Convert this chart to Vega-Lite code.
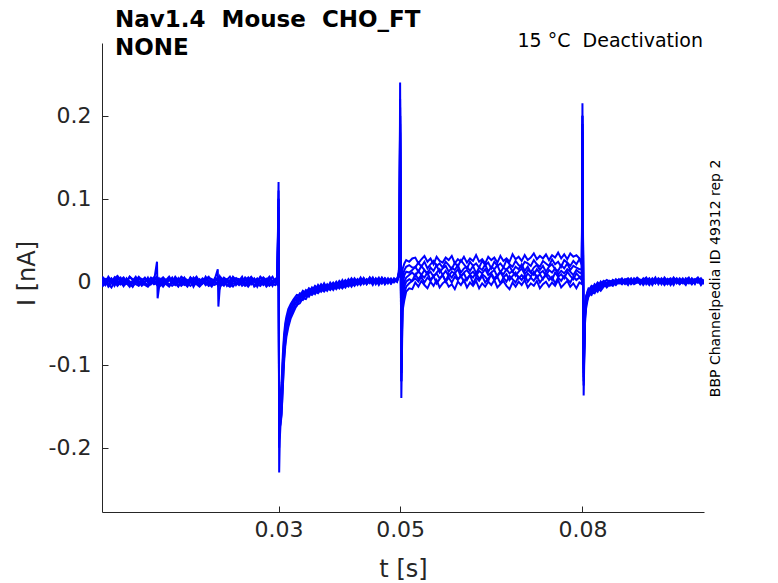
{
  "$schema": "https://vega.github.io/schema/vega-lite/v6.json",
  "width": 602,
  "height": 469,
  "autosize": {"type": "none"},
  "padding": {"left": 102, "top": 43, "right": 74, "bottom": 71},
  "background": "white",
  "title": {
    "text": ["Nav1.4\u00a0 Mouse\u00a0 CHO_FT", "NONE"],
    "anchor": "start",
    "frame": "group",
    "dx": 13,
    "dy": 51,
    "font": "DejaVu Sans",
    "fontSize": 23,
    "fontWeight": "bold",
    "color": "#000000",
    "lineHeight": 28,
    "baseline": "bottom",
    "offset": 0
  },
  "layer": [
    {
      "data": {
        "values": [
          {"t": 0.0010, "a": 0.004, "b": -0.003, "c": 0.001, "d": -0.005, "e": 0.002, "f": 0.006, "g": -0.006},
          {"t": 0.0015, "a": -0.002, "b": 0.001, "c": -0.004, "d": 0.003, "e": -0.001, "f": 0.002, "g": -0.002},
          {"t": 0.0020, "a": 0.006, "b": -0.006, "c": 0.003, "d": 0.000, "e": -0.004, "f": 0.005, "g": -0.003},
          {"t": 0.0025, "a": 0.001, "b": -0.002, "c": -0.001, "d": 0.004, "e": 0.003, "f": 0.001, "g": -0.007},
          {"t": 0.0030, "a": -0.003, "b": 0.002, "c": 0.005, "d": -0.002, "e": -0.005, "f": 0.004, "g": 0.000},
          {"t": 0.0035, "a": 0.005, "b": -0.005, "c": -0.003, "d": 0.002, "e": 0.001, "f": 0.007, "g": -0.004},
          {"t": 0.0040, "a": 0.000, "b": -0.001, "c": 0.002, "d": 0.005, "e": -0.003, "f": 0.002, "g": -0.001},
          {"t": 0.0045, "a": 0.003, "b": -0.004, "c": -0.005, "d": -0.001, "e": 0.004, "f": 0.005, "g": -0.005},
          {"t": 0.0050, "a": -0.001, "b": 0.000, "c": 0.004, "d": 0.003, "e": -0.002, "f": 0.000, "g": -0.002},
          {"t": 0.0055, "a": 0.006, "b": -0.003, "c": 0.000, "d": -0.004, "e": 0.000, "f": 0.006, "g": -0.006},
          {"t": 0.0060, "a": 0.002, "b": -0.006, "c": -0.002, "d": 0.001, "e": -0.006, "f": 0.003, "g": 0.001},
          {"t": 0.0065, "a": -0.002, "b": -0.001, "c": 0.003, "d": 0.006, "e": 0.002, "f": 0.001, "g": -0.003},
          {"t": 0.0070, "a": 0.004, "b": 0.001, "c": -0.004, "d": 0.000, "e": -0.003, "f": 0.006, "g": -0.005},
          {"t": 0.0075, "a": 0.001, "b": -0.005, "c": 0.001, "d": -0.003, "e": 0.003, "f": 0.002, "g": -0.001},
          {"t": 0.0080, "a": 0.005, "b": -0.002, "c": -0.001, "d": 0.004, "e": -0.001, "f": 0.004, "g": -0.004},
          {"t": 0.0085, "a": -0.001, "b": -0.004, "c": 0.005, "d": 0.002, "e": -0.005, "f": 0.000, "g": -0.006},
          {"t": 0.0090, "a": 0.003, "b": 0.000, "c": -0.003, "d": -0.002, "e": 0.002, "f": 0.005, "g": -0.002},
          {"t": 0.0095, "a": 0.000, "b": -0.003, "c": 0.002, "d": 0.005, "e": -0.002, "f": 0.003, "g": 0.000},
          {"t": 0.0100, "a": 0.024, "b": -0.001, "c": -0.002, "d": 0.001, "e": 0.001, "f": 0.006, "g": -0.004},
          {"t": 0.0101, "a": -0.020, "b": -0.004, "c": 0.001, "d": 0.003, "e": -0.003, "f": 0.002, "g": -0.003},
          {"t": 0.0103, "a": -0.009, "b": -0.002, "c": -0.001, "d": -0.001, "e": 0.000, "f": 0.004, "g": -0.005},
          {"t": 0.0105, "a": 0.002, "b": -0.005, "c": 0.003, "d": 0.002, "e": -0.004, "f": 0.001, "g": -0.002},
          {"t": 0.0110, "a": 0.005, "b": 0.000, "c": -0.004, "d": 0.004, "e": 0.003, "f": 0.005, "g": -0.006},
          {"t": 0.0115, "a": -0.002, "b": -0.003, "c": 0.001, "d": -0.002, "e": -0.001, "f": 0.002, "g": -0.001},
          {"t": 0.0120, "a": 0.003, "b": -0.006, "c": 0.004, "d": 0.001, "e": -0.005, "f": 0.006, "g": -0.003},
          {"t": 0.0125, "a": 0.000, "b": -0.001, "c": -0.002, "d": 0.005, "e": 0.002, "f": 0.000, "g": -0.005},
          {"t": 0.0130, "a": 0.006, "b": -0.004, "c": 0.002, "d": -0.003, "e": -0.002, "f": 0.004, "g": -0.002},
          {"t": 0.0135, "a": 0.001, "b": 0.001, "c": -0.005, "d": 0.003, "e": 0.004, "f": 0.001, "g": -0.006},
          {"t": 0.0140, "a": -0.003, "b": -0.005, "c": 0.003, "d": 0.000, "e": -0.004, "f": 0.006, "g": 0.000},
          {"t": 0.0145, "a": 0.004, "b": -0.002, "c": 0.000, "d": 0.005, "e": 0.001, "f": 0.003, "g": -0.004},
          {"t": 0.0150, "a": 0.002, "b": -0.006, "c": -0.003, "d": -0.001, "e": -0.002, "f": -0.001, "g": -0.002},
          {"t": 0.0155, "a": -0.001, "b": 0.000, "c": 0.005, "d": 0.002, "e": 0.003, "f": 0.005, "g": -0.005},
          {"t": 0.0160, "a": 0.005, "b": -0.003, "c": -0.001, "d": -0.004, "e": -0.006, "f": 0.002, "g": -0.001},
          {"t": 0.0165, "a": 0.000, "b": -0.001, "c": 0.002, "d": 0.004, "e": 0.000, "f": 0.006, "g": -0.003},
          {"t": 0.0170, "a": 0.003, "b": -0.005, "c": -0.004, "d": 0.001, "e": -0.003, "f": 0.000, "g": -0.006},
          {"t": 0.0175, "a": -0.002, "b": 0.002, "c": 0.001, "d": -0.002, "e": 0.002, "f": 0.004, "g": -0.002},
          {"t": 0.0180, "a": 0.006, "b": -0.004, "c": 0.004, "d": 0.003, "e": -0.004, "f": 0.001, "g": 0.000},
          {"t": 0.0185, "a": 0.001, "b": -0.002, "c": -0.002, "d": 0.006, "e": 0.001, "f": 0.005, "g": -0.005},
          {"t": 0.0190, "a": -0.003, "b": -0.006, "c": 0.003, "d": -0.001, "e": -0.002, "f": 0.003, "g": -0.003},
          {"t": 0.0195, "a": 0.004, "b": 0.000, "c": 0.000, "d": 0.002, "e": 0.003, "f": -0.001, "g": -0.004},
          {"t": 0.0200, "a": 0.001, "b": -0.003, "c": -0.004, "d": 0.005, "e": 0.015, "f": 0.004, "g": -0.001},
          {"t": 0.0201, "a": 0.003, "b": -0.001, "c": 0.002, "d": 0.000, "e": -0.030, "f": 0.002, "g": -0.006},
          {"t": 0.0203, "a": -0.001, "b": -0.004, "c": -0.001, "d": 0.003, "e": -0.010, "f": 0.006, "g": -0.002},
          {"t": 0.0205, "a": 0.005, "b": -0.002, "c": 0.004, "d": -0.003, "e": -0.003, "f": 0.001, "g": -0.005},
          {"t": 0.0210, "a": 0.000, "b": -0.005, "c": -0.003, "d": 0.004, "e": 0.002, "f": 0.005, "g": -0.001},
          {"t": 0.0215, "a": 0.003, "b": 0.001, "c": 0.002, "d": -0.001, "e": -0.005, "f": 0.002, "g": -0.004},
          {"t": 0.0220, "a": -0.002, "b": -0.003, "c": -0.005, "d": 0.002, "e": 0.000, "f": 0.006, "g": -0.006},
          {"t": 0.0225, "a": 0.006, "b": -0.006, "c": 0.001, "d": 0.005, "e": 0.003, "f": 0.000, "g": -0.002},
          {"t": 0.0230, "a": 0.002, "b": -0.001, "c": 0.004, "d": -0.002, "e": -0.004, "f": 0.004, "g": -0.003},
          {"t": 0.0235, "a": -0.001, "b": -0.004, "c": -0.002, "d": 0.001, "e": 0.001, "f": 0.003, "g": 0.000},
          {"t": 0.0240, "a": 0.004, "b": 0.000, "c": 0.003, "d": 0.006, "e": -0.002, "f": -0.001, "g": -0.005},
          {"t": 0.0245, "a": 0.001, "b": -0.005, "c": -0.004, "d": -0.003, "e": 0.004, "f": 0.005, "g": -0.002},
          {"t": 0.0250, "a": 0.005, "b": -0.002, "c": 0.000, "d": 0.003, "e": -0.003, "f": 0.002, "g": -0.006},
          {"t": 0.0255, "a": -0.003, "b": 0.002, "c": 0.005, "d": 0.000, "e": -0.001, "f": 0.006, "g": -0.001},
          {"t": 0.0260, "a": 0.003, "b": -0.006, "c": -0.001, "d": 0.004, "e": 0.002, "f": 0.001, "g": -0.004},
          {"t": 0.0265, "a": 0.000, "b": -0.003, "c": 0.002, "d": -0.002, "e": -0.006, "f": 0.004, "g": -0.003},
          {"t": 0.0270, "a": 0.006, "b": -0.001, "c": -0.003, "d": 0.005, "e": 0.001, "f": 0.000, "g": -0.005},
          {"t": 0.0275, "a": 0.002, "b": -0.004, "c": 0.004, "d": 0.001, "e": -0.002, "f": 0.005, "g": 0.000},
          {"t": 0.0280, "a": -0.002, "b": 0.001, "c": -0.002, "d": -0.004, "e": 0.003, "f": 0.002, "g": -0.006},
          {"t": 0.0285, "a": 0.004, "b": -0.005, "c": 0.001, "d": 0.002, "e": -0.004, "f": 0.006, "g": -0.002},
          {"t": 0.0290, "a": 0.001, "b": -0.002, "c": -0.005, "d": 0.006, "e": 0.000, "f": -0.001, "g": -0.003},
          {"t": 0.0295, "a": 0.003, "b": 0.000, "c": 0.003, "d": -0.001, "e": 0.002, "f": 0.003, "g": -0.004},
          {"t": 0.0298, "a": -0.001, "b": -0.003, "c": 0.000, "d": 0.002, "e": -0.002, "f": 0.001, "g": -0.001},
          {"t": 0.0300, "a": 0.120, "b": 0.100, "c": 0.090, "d": 0.110, "e": 0.080, "f": 0.100, "g": 0.070},
          {"t": 0.0301, "a": -0.230, "b": -0.200, "c": -0.180, "d": -0.190, "e": -0.170, "f": -0.160, "g": -0.180},
          {"t": 0.0302, "a": -0.190, "b": -0.175, "c": -0.170, "d": -0.165, "e": -0.160, "f": -0.150, "g": -0.155},
          {"t": 0.0303, "a": -0.175, "b": -0.172, "c": -0.160, "d": -0.158, "e": -0.150, "f": -0.145, "g": -0.140},
          {"t": 0.0305, "a": -0.160, "b": -0.158, "c": -0.150, "d": -0.140, "e": -0.138, "f": -0.128, "g": -0.122},
          {"t": 0.0307, "a": -0.128, "b": -0.125, "c": -0.112, "d": -0.110, "e": -0.100, "f": -0.096, "g": -0.088},
          {"t": 0.0309, "a": -0.098, "b": -0.092, "c": -0.086, "d": -0.080, "e": -0.075, "f": -0.070, "g": -0.064},
          {"t": 0.0311, "a": -0.078, "b": -0.074, "c": -0.068, "d": -0.064, "e": -0.059, "f": -0.056, "g": -0.050},
          {"t": 0.0313, "a": -0.066, "b": -0.060, "c": -0.057, "d": -0.052, "e": -0.050, "f": -0.045, "g": -0.042},
          {"t": 0.0316, "a": -0.055, "b": -0.051, "c": -0.047, "d": -0.044, "e": -0.040, "f": -0.038, "g": -0.033},
          {"t": 0.0320, "a": -0.044, "b": -0.041, "c": -0.038, "d": -0.034, "e": -0.033, "f": -0.029, "g": -0.027},
          {"t": 0.0325, "a": -0.036, "b": -0.032, "c": -0.031, "d": -0.027, "e": -0.026, "f": -0.022, "g": -0.021},
          {"t": 0.0330, "a": -0.028, "b": -0.029, "c": -0.023, "d": -0.025, "e": -0.019, "f": -0.021, "g": -0.016},
          {"t": 0.0335, "a": -0.026, "b": -0.021, "c": -0.023, "d": -0.017, "e": -0.020, "f": -0.014, "g": -0.017},
          {"t": 0.0340, "a": -0.020, "b": -0.022, "c": -0.015, "d": -0.019, "e": -0.013, "f": -0.016, "g": -0.011},
          {"t": 0.0345, "a": -0.021, "b": -0.015, "c": -0.018, "d": -0.012, "e": -0.016, "f": -0.010, "g": -0.014},
          {"t": 0.0350, "a": -0.014, "b": -0.018, "c": -0.011, "d": -0.015, "e": -0.009, "f": -0.013, "g": -0.008},
          {"t": 0.0355, "a": -0.016, "b": -0.011, "c": -0.014, "d": -0.008, "e": -0.013, "f": -0.007, "g": -0.011},
          {"t": 0.0360, "a": -0.012, "b": -0.015, "c": -0.009, "d": -0.012, "e": -0.006, "f": -0.011, "g": -0.005},
          {"t": 0.0365, "a": -0.014, "b": -0.008, "c": -0.012, "d": -0.006, "e": -0.010, "f": -0.004, "g": -0.009},
          {"t": 0.0370, "a": -0.009, "b": -0.012, "c": -0.006, "d": -0.011, "e": -0.005, "f": -0.009, "g": -0.003},
          {"t": 0.0375, "a": -0.012, "b": -0.007, "c": -0.010, "d": -0.004, "e": -0.009, "f": -0.002, "g": -0.007},
          {"t": 0.0380, "a": -0.007, "b": -0.011, "c": -0.005, "d": -0.009, "e": -0.003, "f": -0.008, "g": -0.004},
          {"t": 0.0385, "a": -0.010, "b": -0.005, "c": -0.009, "d": -0.003, "e": -0.008, "f": -0.001, "g": -0.006},
          {"t": 0.0390, "a": -0.005, "b": -0.010, "c": -0.003, "d": -0.008, "e": -0.002, "f": -0.006, "g": -0.001},
          {"t": 0.0395, "a": -0.009, "b": -0.004, "c": -0.007, "d": -0.001, "e": -0.006, "f": 0.000, "g": -0.005},
          {"t": 0.0400, "a": -0.004, "b": -0.008, "c": -0.002, "d": -0.007, "e": 0.000, "f": -0.005, "g": 0.001},
          {"t": 0.0405, "a": -0.008, "b": -0.003, "c": -0.006, "d": 0.000, "e": -0.005, "f": 0.002, "g": -0.003},
          {"t": 0.0410, "a": -0.003, "b": -0.007, "c": 0.001, "d": -0.005, "e": 0.001, "f": -0.004, "g": 0.002},
          {"t": 0.0415, "a": -0.006, "b": -0.001, "c": -0.004, "d": 0.002, "e": -0.003, "f": 0.003, "g": -0.002},
          {"t": 0.0420, "a": -0.001, "b": -0.006, "c": 0.002, "d": -0.004, "e": 0.003, "f": -0.002, "g": 0.004},
          {"t": 0.0425, "a": -0.005, "b": 0.000, "c": -0.003, "d": 0.001, "e": -0.004, "f": 0.004, "g": -0.001},
          {"t": 0.0430, "a": 0.001, "b": -0.004, "c": 0.003, "d": -0.002, "e": 0.002, "f": -0.001, "g": 0.003},
          {"t": 0.0435, "a": -0.004, "b": 0.002, "c": -0.002, "d": 0.004, "e": -0.003, "f": 0.005, "g": -0.002},
          {"t": 0.0440, "a": 0.002, "b": -0.003, "c": 0.004, "d": -0.001, "e": 0.004, "f": -0.002, "g": 0.004},
          {"t": 0.0445, "a": -0.003, "b": 0.001, "c": -0.001, "d": 0.003, "e": -0.002, "f": 0.003, "g": -0.003},
          {"t": 0.0450, "a": 0.003, "b": -0.002, "c": 0.005, "d": 0.000, "e": 0.005, "f": -0.001, "g": 0.002},
          {"t": 0.0455, "a": -0.002, "b": 0.004, "c": 0.000, "d": 0.005, "e": -0.001, "f": 0.004, "g": -0.004},
          {"t": 0.0460, "a": 0.004, "b": -0.001, "c": 0.003, "d": -0.003, "e": 0.003, "f": 0.000, "g": 0.003},
          {"t": 0.0465, "a": -0.001, "b": 0.003, "c": -0.002, "d": 0.002, "e": -0.004, "f": 0.005, "g": -0.001},
          {"t": 0.0470, "a": 0.005, "b": 0.000, "c": 0.004, "d": -0.002, "e": 0.002, "f": -0.002, "g": 0.004},
          {"t": 0.0475, "a": 0.000, "b": 0.004, "c": -0.003, "d": 0.004, "e": -0.001, "f": 0.003, "g": -0.003},
          {"t": 0.0480, "a": 0.003, "b": -0.002, "c": 0.002, "d": -0.001, "e": 0.004, "f": 0.001, "g": 0.002},
          {"t": 0.0485, "a": -0.002, "b": 0.003, "c": -0.001, "d": 0.003, "e": -0.002, "f": 0.004, "g": -0.002},
          {"t": 0.0490, "a": 0.004, "b": 0.000, "c": 0.003, "d": 0.000, "e": 0.003, "f": -0.001, "g": 0.003},
          {"t": 0.0495, "a": 0.001, "b": 0.002, "c": 0.000, "d": 0.004, "e": 0.000, "f": 0.003, "g": 0.001},
          {"t": 0.0498, "a": 0.010, "b": 0.008, "c": 0.012, "d": 0.006, "e": 0.009, "f": 0.011, "g": 0.007},
          {"t": 0.0499, "a": 0.054, "b": 0.045, "c": 0.050, "d": 0.040, "e": 0.048, "f": 0.042, "g": 0.046},
          {"t": 0.0500, "a": 0.240, "b": 0.200, "c": 0.210, "d": 0.190, "e": 0.220, "f": 0.180, "g": 0.200},
          {"t": 0.0502, "a": -0.140, "b": -0.120, "c": -0.110, "d": -0.100, "e": -0.120, "f": -0.090, "g": -0.110},
          {"t": 0.0504, "a": -0.035, "b": -0.028, "c": -0.020, "d": -0.012, "e": -0.005, "f": 0.005, "g": 0.015},
          {"t": 0.0507, "a": -0.022, "b": -0.014, "c": -0.006, "d": 0.000, "e": 0.008, "f": 0.014, "g": 0.022},
          {"t": 0.0510, "a": -0.012, "b": -0.006, "c": 0.000, "d": 0.005, "e": 0.012, "f": 0.018, "g": 0.026},
          {"t": 0.0515, "a": -0.008, "b": -0.002, "c": 0.003, "d": 0.008, "e": 0.011, "f": 0.020, "g": 0.024},
          {"t": 0.0520, "a": -0.009, "b": 0.001, "c": 0.001, "d": 0.011, "e": 0.014, "f": 0.017, "g": 0.028},
          {"t": 0.0525, "a": -0.001, "b": 0.004, "c": 0.009, "d": 0.007, "e": 0.018, "f": 0.017, "g": 0.029},
          {"t": 0.0530, "a": -0.006, "b": 0.000, "c": 0.003, "d": 0.013, "e": 0.012, "f": 0.023, "g": 0.022},
          {"t": 0.0535, "a": 0.001, "b": 0.006, "c": 0.008, "d": 0.008, "e": 0.019, "f": 0.018, "g": 0.027},
          {"t": 0.0540, "a": -0.004, "b": -0.001, "c": 0.005, "d": 0.014, "e": 0.014, "f": 0.024, "g": 0.031},
          {"t": 0.0545, "a": -0.008, "b": 0.005, "c": 0.011, "d": 0.009, "e": 0.010, "f": 0.016, "g": 0.024},
          {"t": 0.0550, "a": 0.000, "b": 0.001, "c": 0.002, "d": 0.012, "e": 0.017, "f": 0.021, "g": 0.028},
          {"t": 0.0555, "a": -0.005, "b": 0.007, "c": 0.007, "d": 0.006, "e": 0.013, "f": 0.025, "g": 0.021},
          {"t": 0.0560, "a": 0.002, "b": -0.002, "c": 0.010, "d": 0.011, "e": 0.020, "f": 0.019, "g": 0.030},
          {"t": 0.0565, "a": -0.007, "b": 0.003, "c": 0.004, "d": 0.015, "e": 0.011, "f": 0.022, "g": 0.025},
          {"t": 0.0570, "a": -0.002, "b": 0.008, "c": 0.008, "d": 0.008, "e": 0.016, "f": 0.017, "g": 0.023},
          {"t": 0.0575, "a": 0.001, "b": 0.000, "c": 0.001, "d": 0.013, "e": 0.019, "f": 0.024, "g": 0.029},
          {"t": 0.0580, "a": -0.006, "b": 0.005, "c": 0.009, "d": 0.007, "e": 0.012, "f": 0.020, "g": 0.026},
          {"t": 0.0585, "a": -0.003, "b": -0.001, "c": 0.005, "d": 0.012, "e": 0.017, "f": 0.015, "g": 0.031},
          {"t": 0.0590, "a": -0.009, "b": 0.006, "c": 0.011, "d": 0.010, "e": 0.014, "f": 0.023, "g": 0.022},
          {"t": 0.0595, "a": 0.000, "b": 0.002, "c": 0.003, "d": 0.015, "e": 0.020, "f": 0.018, "g": 0.027},
          {"t": 0.0600, "a": -0.004, "b": 0.007, "c": 0.007, "d": 0.006, "e": 0.011, "f": 0.026, "g": 0.024},
          {"t": 0.0605, "a": 0.002, "b": 0.000, "c": 0.010, "d": 0.011, "e": 0.016, "f": 0.021, "g": 0.030},
          {"t": 0.0610, "a": -0.007, "b": 0.004, "c": 0.002, "d": 0.014, "e": 0.018, "f": 0.016, "g": 0.023},
          {"t": 0.0615, "a": -0.001, "b": 0.008, "c": 0.008, "d": 0.009, "e": 0.013, "f": 0.024, "g": 0.028},
          {"t": 0.0620, "a": -0.005, "b": -0.002, "c": 0.005, "d": 0.012, "e": 0.019, "f": 0.019, "g": 0.025},
          {"t": 0.0625, "a": 0.001, "b": 0.005, "c": 0.011, "d": 0.007, "e": 0.010, "f": 0.022, "g": 0.032},
          {"t": 0.0630, "a": -0.008, "b": 0.001, "c": 0.003, "d": 0.013, "e": 0.017, "f": 0.017, "g": 0.024},
          {"t": 0.0635, "a": -0.002, "b": 0.007, "c": 0.009, "d": 0.010, "e": 0.014, "f": 0.025, "g": 0.027},
          {"t": 0.0640, "a": -0.006, "b": -0.001, "c": 0.006, "d": 0.015, "e": 0.021, "f": 0.020, "g": 0.022},
          {"t": 0.0645, "a": 0.000, "b": 0.004, "c": 0.001, "d": 0.008, "e": 0.012, "f": 0.023, "g": 0.030},
          {"t": 0.0650, "a": -0.004, "b": 0.008, "c": 0.010, "d": 0.011, "e": 0.018, "f": 0.016, "g": 0.026},
          {"t": 0.0655, "a": 0.002, "b": 0.002, "c": 0.004, "d": 0.014, "e": 0.015, "f": 0.024, "g": 0.029},
          {"t": 0.0660, "a": -0.007, "b": 0.006, "c": 0.008, "d": 0.006, "e": 0.020, "f": 0.019, "g": 0.023},
          {"t": 0.0665, "a": -0.003, "b": -0.002, "c": 0.012, "d": 0.012, "e": 0.011, "f": 0.022, "g": 0.031},
          {"t": 0.0670, "a": 0.001, "b": 0.005, "c": 0.005, "d": 0.009, "e": 0.017, "f": 0.017, "g": 0.025},
          {"t": 0.0675, "a": -0.005, "b": 0.000, "c": 0.009, "d": 0.015, "e": 0.014, "f": 0.026, "g": 0.028},
          {"t": 0.0680, "a": -0.009, "b": 0.007, "c": 0.002, "d": 0.010, "e": 0.019, "f": 0.021, "g": 0.024},
          {"t": 0.0685, "a": -0.001, "b": 0.003, "c": 0.007, "d": 0.013, "e": 0.012, "f": 0.018, "g": 0.033},
          {"t": 0.0690, "a": -0.006, "b": -0.001, "c": 0.011, "d": 0.007, "e": 0.018, "f": 0.025, "g": 0.027},
          {"t": 0.0695, "a": 0.000, "b": 0.006, "c": 0.004, "d": 0.012, "e": 0.015, "f": 0.020, "g": 0.030},
          {"t": 0.0700, "a": -0.004, "b": 0.002, "c": 0.008, "d": 0.016, "e": 0.021, "f": 0.017, "g": 0.025},
          {"t": 0.0705, "a": 0.002, "b": 0.008, "c": 0.003, "d": 0.009, "e": 0.013, "f": 0.024, "g": 0.032},
          {"t": 0.0710, "a": -0.007, "b": 0.000, "c": 0.010, "d": 0.014, "e": 0.018, "f": 0.022, "g": 0.026},
          {"t": 0.0715, "a": -0.002, "b": 0.005, "c": 0.006, "d": 0.011, "e": 0.011, "f": 0.019, "g": 0.029},
          {"t": 0.0720, "a": -0.005, "b": 0.001, "c": 0.012, "d": 0.008, "e": 0.017, "f": 0.026, "g": 0.034},
          {"t": 0.0725, "a": 0.001, "b": 0.007, "c": 0.005, "d": 0.015, "e": 0.020, "f": 0.021, "g": 0.027},
          {"t": 0.0730, "a": -0.008, "b": -0.001, "c": 0.009, "d": 0.010, "e": 0.014, "f": 0.018, "g": 0.031},
          {"t": 0.0735, "a": -0.003, "b": 0.004, "c": 0.003, "d": 0.013, "e": 0.019, "f": 0.025, "g": 0.028},
          {"t": 0.0740, "a": 0.000, "b": 0.008, "c": 0.010, "d": 0.007, "e": 0.012, "f": 0.022, "g": 0.033},
          {"t": 0.0745, "a": -0.006, "b": 0.002, "c": 0.007, "d": 0.014, "e": 0.018, "f": 0.019, "g": 0.026},
          {"t": 0.0750, "a": -0.001, "b": 0.006, "c": 0.002, "d": 0.011, "e": 0.021, "f": 0.027, "g": 0.032},
          {"t": 0.0755, "a": -0.005, "b": -0.002, "c": 0.011, "d": 0.016, "e": 0.015, "f": 0.021, "g": 0.029},
          {"t": 0.0760, "a": 0.002, "b": 0.005, "c": 0.006, "d": 0.009, "e": 0.013, "f": 0.024, "g": 0.035},
          {"t": 0.0765, "a": -0.007, "b": 0.001, "c": 0.009, "d": 0.013, "e": 0.020, "f": 0.018, "g": 0.028},
          {"t": 0.0770, "a": -0.003, "b": 0.007, "c": 0.004, "d": 0.010, "e": 0.016, "f": 0.026, "g": 0.033},
          {"t": 0.0775, "a": 0.001, "b": 0.003, "c": 0.012, "d": 0.015, "e": 0.022, "f": 0.023, "g": 0.027},
          {"t": 0.0780, "a": -0.006, "b": -0.001, "c": 0.007, "d": 0.012, "e": 0.014, "f": 0.019, "g": 0.034},
          {"t": 0.0785, "a": -0.002, "b": 0.006, "c": 0.003, "d": 0.008, "e": 0.019, "f": 0.025, "g": 0.030},
          {"t": 0.0790, "a": -0.008, "b": 0.002, "c": 0.010, "d": 0.014, "e": 0.017, "f": 0.021, "g": 0.032},
          {"t": 0.0795, "a": -0.001, "b": 0.005, "c": 0.006, "d": 0.011, "e": 0.015, "f": 0.027, "g": 0.028},
          {"t": 0.0799, "a": -0.003, "b": 0.002, "c": 0.006, "d": 0.010, "e": 0.015, "f": 0.020, "g": 0.025},
          {"t": 0.0800, "a": 0.215, "b": 0.190, "c": 0.200, "d": 0.180, "e": 0.200, "f": 0.170, "g": 0.190},
          {"t": 0.0802, "a": -0.137, "b": -0.120, "c": -0.110, "d": -0.125, "e": -0.100, "f": -0.115, "g": -0.105},
          {"t": 0.0804, "a": -0.052, "b": -0.046, "c": -0.040, "d": -0.043, "e": -0.035, "f": -0.038, "g": -0.031},
          {"t": 0.0806, "a": -0.032, "b": -0.028, "c": -0.026, "d": -0.024, "e": -0.021, "f": -0.019, "g": -0.017},
          {"t": 0.0808, "a": -0.024, "b": -0.019, "c": -0.021, "d": -0.015, "e": -0.017, "f": -0.012, "g": -0.014},
          {"t": 0.0810, "a": -0.018, "b": -0.013, "c": -0.016, "d": -0.010, "e": -0.013, "f": -0.008, "g": -0.011},
          {"t": 0.0815, "a": -0.013, "b": -0.016, "c": -0.009, "d": -0.012, "e": -0.006, "f": -0.010, "g": -0.005},
          {"t": 0.0820, "a": -0.014, "b": -0.008, "c": -0.011, "d": -0.005, "e": -0.009, "f": -0.003, "g": -0.007},
          {"t": 0.0825, "a": -0.008, "b": -0.012, "c": -0.005, "d": -0.009, "e": -0.002, "f": -0.007, "g": -0.001},
          {"t": 0.0830, "a": -0.011, "b": -0.005, "c": -0.008, "d": -0.002, "e": -0.006, "f": 0.000, "g": -0.004},
          {"t": 0.0835, "a": -0.006, "b": -0.002, "c": -0.004, "d": 0.001, "e": -0.001, "f": -0.005, "g": 0.000},
          {"t": 0.0840, "a": -0.003, "b": -0.007, "c": -0.001, "d": -0.002, "e": 0.002, "f": -0.004, "g": -0.003},
          {"t": 0.0845, "a": -0.005, "b": -0.003, "c": 0.001, "d": -0.004, "e": 0.000, "f": 0.001, "g": -0.001},
          {"t": 0.0850, "a": -0.001, "b": -0.005, "c": -0.002, "d": 0.002, "e": -0.003, "f": -0.002, "g": 0.002},
          {"t": 0.0855, "a": -0.004, "b": 0.000, "c": -0.003, "d": -0.001, "e": 0.001, "f": 0.003, "g": -0.002},
          {"t": 0.0860, "a": 0.000, "b": -0.002, "c": 0.001, "d": 0.003, "e": -0.002, "f": 0.000, "g": 0.001},
          {"t": 0.0865, "a": -0.003, "b": 0.001, "c": -0.001, "d": 0.000, "e": 0.003, "f": -0.003, "g": 0.004},
          {"t": 0.0870, "a": 0.002, "b": -0.001, "c": 0.003, "d": -0.003, "e": 0.000, "f": 0.002, "g": -0.001},
          {"t": 0.0875, "a": -0.002, "b": 0.003, "c": 0.000, "d": 0.001, "e": -0.004, "f": 0.004, "g": 0.000},
          {"t": 0.0880, "a": 0.001, "b": -0.003, "c": -0.002, "d": 0.004, "e": 0.002, "f": -0.001, "g": 0.003},
          {"t": 0.0885, "a": 0.003, "b": 0.000, "c": 0.004, "d": -0.002, "e": -0.001, "f": 0.001, "g": -0.003},
          {"t": 0.0890, "a": -0.001, "b": 0.004, "c": 0.001, "d": 0.002, "e": 0.003, "f": 0.005, "g": -0.001},
          {"t": 0.0895, "a": 0.000, "b": -0.002, "c": -0.003, "d": -0.001, "e": -0.003, "f": 0.002, "g": 0.002},
          {"t": 0.0900, "a": 0.004, "b": 0.001, "c": 0.002, "d": 0.003, "e": 0.001, "f": -0.002, "g": -0.004},
          {"t": 0.0905, "a": -0.003, "b": -0.001, "c": 0.005, "d": 0.000, "e": 0.004, "f": 0.003, "g": 0.001},
          {"t": 0.0910, "a": 0.001, "b": 0.003, "c": -0.001, "d": -0.004, "e": -0.002, "f": 0.000, "g": 0.004},
          {"t": 0.0915, "a": 0.002, "b": -0.004, "c": 0.000, "d": 0.002, "e": 0.000, "f": 0.004, "g": -0.002},
          {"t": 0.0920, "a": -0.002, "b": 0.002, "c": 0.003, "d": -0.002, "e": 0.005, "f": -0.001, "g": 0.000},
          {"t": 0.0925, "a": 0.003, "b": -0.001, "c": -0.002, "d": 0.004, "e": -0.003, "f": 0.002, "g": 0.003},
          {"t": 0.0930, "a": 0.000, "b": 0.004, "c": 0.001, "d": 0.001, "e": 0.002, "f": -0.003, "g": -0.001},
          {"t": 0.0935, "a": -0.004, "b": 0.000, "c": 0.004, "d": -0.003, "e": -0.001, "f": 0.005, "g": 0.002},
          {"t": 0.0940, "a": 0.002, "b": -0.003, "c": -0.001, "d": 0.003, "e": 0.003, "f": 0.001, "g": -0.003},
          {"t": 0.0945, "a": 0.004, "b": 0.002, "c": 0.002, "d": -0.001, "e": -0.004, "f": -0.002, "g": 0.001},
          {"t": 0.0950, "a": -0.001, "b": -0.001, "c": -0.004, "d": 0.005, "e": 0.001, "f": 0.003, "g": 0.004},
          {"t": 0.0955, "a": 0.001, "b": 0.003, "c": 0.003, "d": 0.000, "e": 0.004, "f": 0.000, "g": -0.002},
          {"t": 0.0960, "a": -0.003, "b": 0.000, "c": 0.000, "d": -0.003, "e": -0.002, "f": 0.004, "g": 0.002},
          {"t": 0.0965, "a": 0.003, "b": -0.002, "c": 0.004, "d": 0.002, "e": 0.000, "f": -0.001, "g": 0.000},
          {"t": 0.0970, "a": 0.000, "b": 0.004, "c": -0.002, "d": -0.001, "e": 0.003, "f": 0.002, "g": -0.004},
          {"t": 0.0975, "a": -0.002, "b": 0.001, "c": 0.001, "d": 0.004, "e": -0.001, "f": 0.005, "g": 0.003},
          {"t": 0.0980, "a": 0.004, "b": -0.003, "c": -0.003, "d": 0.000, "e": 0.002, "f": -0.002, "g": 0.001},
          {"t": 0.0985, "a": 0.001, "b": 0.002, "c": 0.002, "d": -0.002, "e": -0.003, "f": 0.003, "g": -0.001},
          {"t": 0.0990, "a": -0.001, "b": -0.001, "c": 0.005, "d": 0.003, "e": 0.004, "f": 0.000, "g": 0.002},
          {"t": 0.0995, "a": 0.002, "b": 0.003, "c": 0.000, "d": -0.004, "e": -0.001, "f": 0.004, "g": -0.003},
          {"t": 0.1000, "a": -0.003, "b": 0.000, "c": 0.002, "d": 0.001, "e": 0.002, "f": -0.001, "g": 0.001}
        ]
      },
      "transform": [{"fold": ["a", "b", "c", "d", "e", "f", "g"], "as": ["sweep", "i"]}],
      "mark": {"type": "line", "stroke": "#0000ff", "strokeWidth": 2, "clip": true},
      "encoding": {
        "x": {
          "field": "t",
          "type": "quantitative",
          "scale": {"domain": [0.00095, 0.1], "nice": false, "zero": false},
          "axis": {
            "title": "t [s]",
            "values": [0.03, 0.05, 0.08],
            "labelExpr": "toString(datum.value)",
            "labelBaseline": "alphabetic",
            "labelPadding": 30,
            "titleBaseline": "alphabetic",
            "titleY": 64
          }
        },
        "y": {
          "field": "i",
          "type": "quantitative",
          "scale": {"domain": [-0.2775, 0.2876], "nice": false, "zero": false},
          "axis": {
            "title": "I [nA]",
            "values": [-0.2, -0.1, 0, 0.1, 0.2],
            "labelExpr": "toString(datum.value)",
            "labelPadding": 17,
            "titleBaseline": "middle",
            "titleX": -75,
            "titleY": 230
          }
        },
        "detail": {"field": "sweep"}
      }
    },
    {
      "data": {"values": [{}]},
      "mark": {
        "type": "text",
        "text": "15 °C\u00a0 Deactivation",
        "align": "right",
        "baseline": "alphabetic",
        "font": "DejaVu Sans",
        "fontSize": 19,
        "color": "#000000",
        "dx": -1,
        "dy": 4
      },
      "encoding": {
        "x": {"datum": 0.1},
        "y": {"datum": 0.2876}
      }
    },
    {
      "data": {"values": [{}]},
      "mark": {
        "type": "text",
        "text": "BBP Channelpedia ID 49312 rep 2",
        "align": "center",
        "baseline": "middle",
        "angle": 270,
        "font": "DejaVu Sans",
        "fontSize": 14,
        "color": "#000000"
      },
      "encoding": {
        "x": {"datum": 0.10204},
        "y": {"datum": 0.0039}
      }
    }
  ],
  "config": {
    "view": {"stroke": null},
    "axis": {
      "grid": false,
      "domainColor": "#262626",
      "tickColor": "#262626",
      "labelColor": "#262626",
      "titleColor": "#262626",
      "labelFont": "DejaVu Sans",
      "titleFont": "DejaVu Sans",
      "labelFontSize": 22,
      "titleFontSize": 24,
      "titleFontWeight": "normal",
      "tickSize": -6,
      "domainWidth": 1,
      "tickWidth": 1
    }
  }
}
